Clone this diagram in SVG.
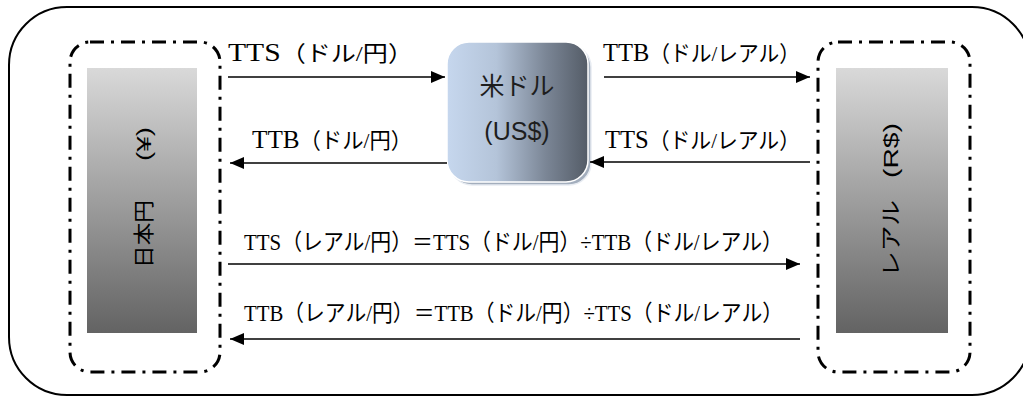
<svg xmlns="http://www.w3.org/2000/svg" width="1023" height="397" viewBox="0 0 1023 397">
<style>
.lbl{font-family:"Liberation Serif","Noto Sans CJK JP",serif;font-size:22px;fill:#000}
.lbl .a{font-size:26px}
.fx{font-family:"Liberation Serif","Noto Sans CJK JP",serif;font-size:22.5px;fill:#000}
.side{font-family:"Liberation Sans","Noto Sans CJK JP",sans-serif;font-size:21px;fill:#000}
.ctr{font-family:"Liberation Sans","Noto Sans CJK JP",sans-serif;font-size:25px;fill:#1e1e1e;text-anchor:middle}
.box{fill:none;stroke:#000;stroke-width:3;stroke-dasharray:14 7 3 7}
.conn{stroke:#000;stroke-width:1.6;fill:none;marker-end:url(#ah)}
</style>
<defs>
<marker id="ah" viewBox="0 0 14 12" refX="14" refY="6" markerWidth="14" markerHeight="12" markerUnits="userSpaceOnUse" orient="auto">
<path d="M0,0 L14,6 L0,12 z" fill="#000"/>
</marker>
<linearGradient id="gray" x1="0" y1="0" x2="0" y2="1">
<stop offset="0" stop-color="#d9d9d9"/>
<stop offset="1" stop-color="#636363"/>
</linearGradient>
<linearGradient id="blue" x1="0" y1="0" x2="1" y2="0">
<stop offset="0" stop-color="#c6d7ee"/>
<stop offset="0.35" stop-color="#b4c4d9"/>
<stop offset="0.7" stop-color="#7b8696"/>
<stop offset="1" stop-color="#545c67"/>
</linearGradient>
</defs>
<rect id="frame" x="9" y="7" width="1021" height="388" rx="58" ry="58" fill="#fff" stroke="#000" stroke-width="2"/>
<g id="yen">
<rect class="box" x="70" y="42" width="150" height="330" rx="20"/>
<rect x="87" y="68" width="110" height="265" fill="url(#gray)"/>
<text class="side" transform="translate(143,268) rotate(-90)" dominant-baseline="central" textLength="68" lengthAdjust="spacingAndGlyphs">日本円</text>
<text class="side" transform="translate(143,161) rotate(-90)" dominant-baseline="central" textLength="34" lengthAdjust="spacingAndGlyphs">(¥)</text>
</g>
<g id="usd">
<rect x="450" y="45" width="141" height="140" rx="22" fill="#a3aebd" stroke="#e8ecf2" stroke-width="1.5"/>
<rect x="447" y="42" width="141" height="140" rx="22" fill="url(#blue)" stroke="#fff" stroke-width="1.5"/>
<text class="ctr" x="517" y="95">米ドル</text>
<text class="ctr" x="517" y="140">(US$)</text>
</g>
<g id="real">
<rect class="box" x="818" y="42" width="152" height="330" rx="20"/>
<rect x="836" y="68" width="112" height="265" fill="url(#gray)"/>
<text class="side" transform="translate(890,277) rotate(-90)" dominant-baseline="central" textLength="77" lengthAdjust="spacingAndGlyphs">レアル</text>
<text class="side" transform="translate(890,178) rotate(-90)" dominant-baseline="central" textLength="55" lengthAdjust="spacingAndGlyphs">(R$)</text>
</g>
<g id="connectors">
<line class="conn" x1="228" y1="77" x2="445" y2="77"/>
<line class="conn" x1="447" y1="163" x2="230" y2="163"/>
<line class="conn" x1="604" y1="77" x2="810" y2="77"/>
<line class="conn" x1="810" y1="162" x2="590" y2="162"/>
<line class="conn" x1="228" y1="264" x2="800" y2="264"/>
<line class="conn" x1="800" y1="339" x2="230" y2="339"/>
<text class="lbl" x="228" y="61" textLength="185" lengthAdjust="spacingAndGlyphs"><tspan class="a">TTS</tspan>（ドル/円）</text>
<text class="lbl" x="252" y="148" textLength="160" lengthAdjust="spacingAndGlyphs"><tspan class="a">TTB</tspan>（ドル/円）</text>
<text class="lbl" x="603" y="61" textLength="197" lengthAdjust="spacingAndGlyphs"><tspan class="a">TTB</tspan>（ドル/レアル）</text>
<text class="lbl" x="605" y="148" textLength="195" lengthAdjust="spacingAndGlyphs"><tspan class="a">TTS</tspan>（ドル/レアル）</text>
<text class="fx" x="244" y="250" textLength="539" lengthAdjust="spacingAndGlyphs">TTS（レアル/円）＝TTS（ドル/円）÷TTB（ドル/レアル）</text>
<text class="fx" x="244" y="321" textLength="539" lengthAdjust="spacingAndGlyphs">TTB（レアル/円）＝TTB（ドル/円）÷TTS（ドル/レアル）</text>
</g>
</svg>
